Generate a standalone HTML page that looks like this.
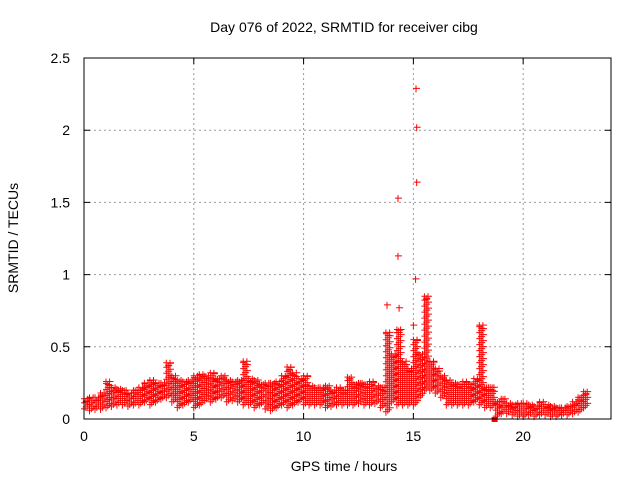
<!DOCTYPE html>
<html><head><meta charset="utf-8"><style>
body{margin:0;background:#fff;}
svg{display:block;font-family:"Liberation Sans",sans-serif;}
</style></head><body>
<svg id="chart" width="640" height="480" viewBox="0 0 640 480">
<text x="344" y="32" font-size="14" text-anchor="middle">Day 076 of 2022, SRMTID for receiver cibg</text>
<text x="344" y="471" font-size="14" text-anchor="middle">GPS time / hours</text>
<text x="18" y="238" font-size="14" text-anchor="middle" transform="rotate(-90 18 238)">SRMTID / TECUs</text>
<g id="grid"></g>
<g id="ticks"></g>
<path id="marks" fill="none" stroke="#ff0000" stroke-width="1"></path>
<g id="outl"></g>
<rect x="84" y="58" width="527" height="361" fill="none" stroke="#000" stroke-width="1"/>
</svg>
<script>
const xTicks=[0,5,10,15,20];
const yTicks=[0,0.5,1,1.5,2,2.5];
const yTickLabels=["0","0.5","1","1.5","2","2.5"];
const binStart=0, binStep=0.25;
const lowVals=[.07,.06,.07,.07,.08,.09,.1,.1,.09,.1,.1,.12,.1,.12,.14,.15,.12,.08,.1,.12,.08,.1,.13,.12,.14,.15,.12,.13,.12,.1,.1,.08,.1,.07,.06,.08,.1,.08,.1,.12,.1,.1,.1,.1,.08,.09,.1,.1,.1,.1,.11,.1,.1,.11,.08,.05,.12,.1,.1,.1,.1,.15,.2,.2,.18,.15,.1,.1,.1,.1,.1,.12,.1,.08,.08,.02,.04,.04,.03,.02,.02,.03,.02,.03,.03,.02,.02,.03,.03,.04,.05,.08];
const highVals=[.14,.15,.15,.18,.26,.22,.21,.2,.18,.2,.22,.25,.27,.25,.25,.39,.3,.27,.26,.27,.3,.31,.3,.32,.28,.3,.27,.26,.27,.4,.28,.27,.24,.25,.25,.26,.3,.36,.32,.28,.3,.23,.22,.22,.23,.2,.22,.2,.29,.24,.25,.24,.26,.23,.22,.6,.45,.62,.4,.35,.55,.45,.85,.4,.35,.3,.27,.25,.24,.26,.24,.28,.65,.22,.22,.12,.14,.11,.1,.11,.11,.1,.09,.12,.1,.09,.08,.08,.09,.12,.15,.19];
const outlierT=[13.8,14.3,14.3,15.1,15.15,15.15,15.12,14.35,15.0];
const outlierV=[0.79,1.53,1.13,0.97,1.64,2.02,2.29,0.77,0.65];
const X0=84,X1=611,Y0=419,Y1=58,XMAX=24,YMAX=2.5;
const sx=t=>X0+t/XMAX*(X1-X0);
const sy=v=>Y0-v/YMAX*(Y0-Y1);
const NS="http://www.w3.org/2000/svg";
const grid=document.getElementById('grid'),ticks=document.getElementById('ticks');
function mk(tag,at,parent){const e=document.createElementNS(NS,tag);for(const k in at)e.setAttribute(k,at[k]);parent.appendChild(e);return e;}
xTicks.forEach(t=>{
 const x=sx(t);
 if(t>0){const l=mk('line',{x1:x,x2:x,y1:Y1,y2:Y0,stroke:'#999','stroke-dasharray':'2,3'},grid);
 
 }
 const tk=mk('path',{d:`M${x} ${Y0}v-6M${x} ${Y1}v6`,stroke:'#000'},ticks);
 
 
 const tx=mk('text',{x:x,y:Y0+22,'font-size':14,'text-anchor':'middle'},ticks);tx.textContent=t;
 
 
});
yTicks.forEach((v,i)=>{
 const y=sy(v);
 if(v>0&&v<YMAX){const l=mk('line',{x1:X0,x2:X1,y1:y,y2:y,stroke:'#999','stroke-dasharray':'2,3'},grid);
 
 }
 const tk=mk('path',{d:`M${X0} ${y}h6M${X1} ${y}h-6`,stroke:'#000'},ticks);
 
 
 const tx=mk('text',{x:X0-14,y:y+5,'font-size':14,'text-anchor':'end'},ticks);tx.textContent=yTickLabels[i];
 
 
});
let d='';
const plus=(x,y)=>{d+=`M${(x-3).toFixed(1)} ${y.toFixed(1)}h7M${x.toFixed(1)} ${(y-3).toFixed(1)}v7`;};
lowVals.forEach((lo,i)=>{
 const hi=highVals[i];
 for(let k=0;k<3;k++){
  const t=binStart+i*binStep+k*binStep/3;
  const x=sx(t);
  const yl=sy(lo),yh=sy(hi);
  const off=(k%3)*2;
  for(let y=yl-off;y>=yh;y-=6)plus(x,y);
  plus(x,yh+(k==1?3:0));
 }
});
document.getElementById('marks').setAttribute('d',d);
const og=document.getElementById('outl');
outlierT.forEach((t,i)=>{
 const x=sx(t),y=sy(outlierV[i]);
 const p=mk('path',{d:`M${x-3} ${y}h7M${x} ${y-3}v7`,stroke:'#ff0000',fill:'none'},og);
 
 
});
const sq=mk('rect',{x:sx(18.7)-3,y:Y0-2,width:6,height:5,fill:'#ff0000'},og);


</script>
</body></html>
